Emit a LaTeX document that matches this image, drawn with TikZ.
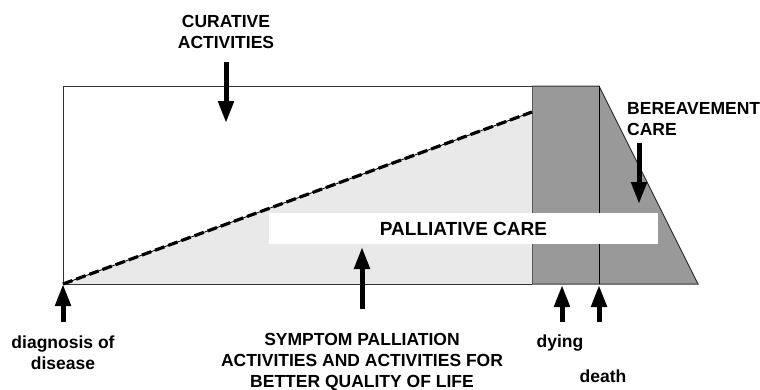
\documentclass[tikz,border=0pt]{standalone}
\usepackage{fontspec}
\setmainfont{Liberation Sans}
\usetikzlibrary{arrows.meta}
\definecolor{darkgray}{HTML}{999999}
\definecolor{lightgray}{HTML}{E9E9E9}
\tikzset{
  bigarrow/.style={line width=5pt,-{Triangle[width=15pt,length=22pt]},black},
  lbl/.style={font=\fontsize{17.5}{21}\selectfont\bfseries,align=center,inner sep=0pt},
  outline/.style={draw=black!80,line width=1pt}
}
\begin{document}
\begin{tikzpicture}[x=1pt,y=-1pt]
\useasboundingbox (0,0) rectangle (760,389);
% base shapes
\fill[white] (63,86) rectangle (532,284);
\fill[lightgray] (63,284) -- (532,112) -- (532,284) -- cycle;
\fill[darkgray] (532,86) rectangle (599,284);
\fill[darkgray] (599,86) -- (698,284) -- (599,284) -- cycle;
\draw[outline] (532,86) -- (63,86) -- (63,284) -- (532,284);
\draw[draw=black!65,line width=1pt] (532,86) -- (532,284);
\draw[outline] (532,86) -- (599,86) -- (698,284) -- (532,284);
\draw[black,line width=1pt] (599,86) -- (599,284);
% dashed boundary
\draw[black,line width=0.8pt] (63,284) -- (532,112);
\draw[black,line width=3.2pt,dash pattern=on 10pt off 4pt] (63,284) -- (532,112);
% palliative care box
\node[fill=white,minimum width=389pt,minimum height=31pt,inner sep=0pt,
      font=\fontsize{19}{22}\selectfont\bfseries] (pc) at (463.5,228.5) {PALLIATIVE CARE};
% labels
\node[lbl] (cur) at (226,32) {CURATIVE\\ACTIVITIES};
\node[lbl,align=left,anchor=west] (ber) at (627,119) {BEREAVEMENT\\CARE};
\node[lbl] (diag) at (63,353) {diagnosis of\\disease};
\node[lbl,anchor=north] (sym) at (362,333) {SYMPTOM PALLIATION\\ACTIVITIES AND ACTIVITIES FOR\\BETTER QUALITY OF LIFE};
\node[lbl] (dying) at (560,343) {dying};
\node[lbl] (death) at (603,376) {death};
% arrow coordinates
\coordinate (c1) at (226,62);  \coordinate (c2) at (226,123);
\coordinate (b1) at (639,143); \coordinate (b2) at (639,204);
\coordinate (d1) at (63,322);  \coordinate (d2) at (63,284);
\coordinate (s1) at (362,309); \coordinate (s2) at (362,247);
\coordinate (y1) at (562,322); \coordinate (y2) at (562,285);
\coordinate (e1) at (599,322); \coordinate (e2) at (599,285);
\draw[bigarrow] (c1) -- (c2);
\draw[bigarrow] (b1) -- (b2);
\draw[bigarrow] (d1) -- (d2);
\draw[bigarrow] (s1) -- (s2);
\draw[bigarrow] (y1) -- (y2);
\draw[bigarrow] (e1) -- (e2);
\end{tikzpicture}
\end{document}
